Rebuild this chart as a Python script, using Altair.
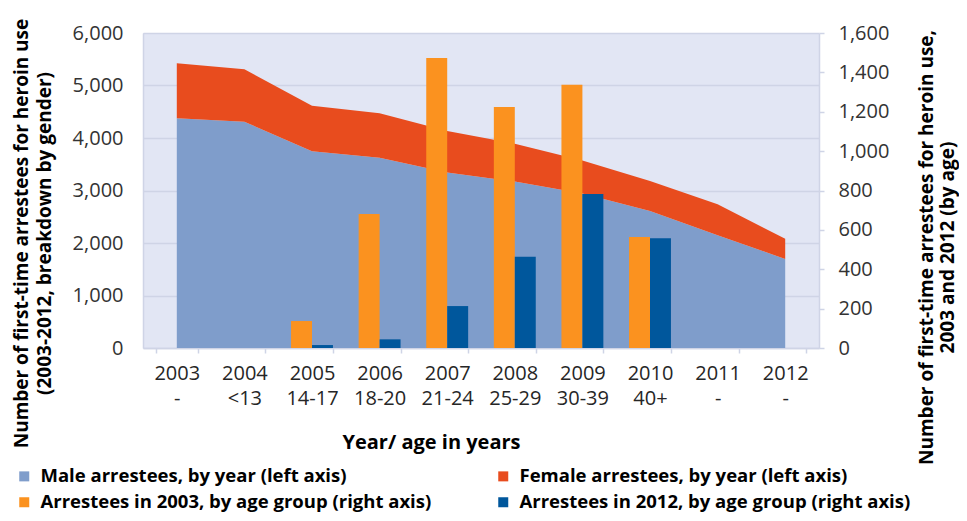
import altair as alt
import pandas as pd

years = ["2003", "2004", "2005", "2006", "2007", "2008", "2009", "2010", "2011", "2012"]
ages = ["-", "<13", "14-17", "18-20", "21-24", "25-29", "30-39", "40+", "-", "-"]
male = [4375, 4310, 3750, 3625, 3345, 3170, 2945, 2610, 2150, 1695]
female = [1050, 1000, 865, 845, 790, 720, 625, 570, 587, 385]
age_2003 = [None, 0, 137, 681, 1473, 1224, 1337, 564, None, None]
age_2012 = [None, 0, 15, 44, 213, 464, 782, 557, None, None]

series = [
    "Male arrestees, by year (left axis)",
    "Female arrestees, by year (left axis)",
    "Arrestees in 2003, by age group (right axis)",
    "Arrestees in 2012, by age group (right axis)",
]
colors = ["#7f9dcb", "#e84c1e", "#fb921f", "#00579c"]

cats = [y + "|" + a for y, a in zip(years, ages)]

area_rows = []
for c, m, f in zip(cats, male, female):
    area_rows.append({"cat": c, "series": series[0], "value": m, "order": 0})
    area_rows.append({"cat": c, "series": series[1], "value": f, "order": 1})
area_df = pd.DataFrame(area_rows)

bar_rows = []
for c, a, b in zip(cats, age_2003, age_2012):
    if a is not None:
        bar_rows.append({"cat": c, "series": series[2], "value": a})
    if b is not None:
        bar_rows.append({"cat": c, "series": series[3], "value": b})
bar_df = pd.DataFrame(bar_rows)

FONT = "Open Sans"
LINE = "#cfd4e6"

x_axis = alt.Axis(
    labelExpr="split(datum.label, '|')",
    labelAngle=0,
    labelFont=FONT,
    labelFontSize=20,
    labelLineHeight=25,
    labelColor="#262626",
    labelPadding=10,
    tickBand="extent",
    ticks=True,
    tickSize=5,
    tickColor=LINE,
    tickWidth=1.5,
    domainColor=LINE,
    domainWidth=1.5,
    grid=False,
    title="Year/ age in years",
    titleFont=FONT,
    titleFontSize=20,
    titleFontWeight="bold",
    titleColor="#000000",
    titleX=288,
    titleY=94,
    titleAlign="center",
    titleBaseline="middle",
)

x_enc = alt.X(
    "cat:N",
    sort=cats,
    scale=alt.Scale(domain=cats, paddingInner=0.38, paddingOuter=0.19),
    axis=x_axis,
)

color_enc = alt.Color(
    "series:N",
    scale=alt.Scale(domain=series, range=colors),
    legend=alt.Legend(
        title=None,
        orient="none",
        direction="horizontal",
        legendX=-128,
        legendY=434,
        columns=2,
        columnPadding=62,
        rowPadding=7,
        symbolType="square",
        symbolSize=100,
        symbolStrokeWidth=0,
        symbolOpacity=1,
        labelFont=FONT,
        labelFontSize=18.5,
        labelFontWeight="bold",
        labelColor="#000000",
        labelLimit=700,
        labelOffset=7,
    ),
)

area = alt.Chart(area_df).mark_area(opacity=1).encode(
    x=x_enc,
    y=alt.Y(
        "value:Q",
        stack="zero",
        scale=alt.Scale(domain=[0, 6000], nice=False),
        axis=alt.Axis(
            orient="left",
            values=[0, 1000, 2000, 3000, 4000, 5000, 6000],
            format=",d",
            labelFont=FONT,
            labelFontSize=20,
            labelColor="#333333",
            labelPadding=20,
            ticks=False,
            domain=True,
            domainColor=LINE,
            domainWidth=1.5,
            grid=True,
            gridColor=LINE,
            gridWidth=1.5,
            title=["Number of first-time arrestees for heroin use",
                   "(2003-2012, breakdown by gender)"],
            titleFont=FONT,
            titleFontSize=19,
            titleFontWeight="bold",
            titleColor="#000000",
            titleAngle=270,
            titleLineHeight=23,
            titleX=-122,
            titleY=200,
            titleAlign="center",
            titleBaseline="middle",
        ),
    ),
    color=color_enc,
    order=alt.Order("order:Q"),
)

bars = alt.Chart(bar_df).mark_bar().encode(
    x=x_enc,
    xOffset=alt.XOffset(
        "series:N",
        scale=alt.Scale(domain=series[2:], paddingInner=0, paddingOuter=0),
    ),
    y=alt.Y(
        "value:Q",
        scale=alt.Scale(domain=[0, 1600], nice=False),
        axis=alt.Axis(
            orient="right",
            values=[0, 200, 400, 600, 800, 1000, 1200, 1400, 1600],
            format=",d",
            labelFont=FONT,
            labelFontSize=20,
            labelColor="#333333",
            labelPadding=14,
            ticks=True,
            tickSize=5,
            tickColor=LINE,
            tickWidth=1.5,
            domain=True,
            domainColor=LINE,
            domainWidth=1.5,
            grid=False,
            title=["Number of first-time arrestees  for heroin use,",
                   "2003 and 2012 (by age)"],
            titleFont=FONT,
            titleFontSize=19,
            titleFontWeight="bold",
            titleColor="#000000",
            titleAngle=270,
            titleLineHeight=21,
            titleX=107,
            titleY=214,
            titleAlign="center",
            titleBaseline="middle",
        ),
    ),
    color=color_enc,
)

chart = (
    alt.layer(area, bars)
    .resolve_scale(y="independent")
    .properties(
        width=676,
        height=315,
        padding={"left": 135, "top": 25, "right": 140, "bottom": 165},
        autosize=alt.AutoSizeParams(type="none"),
    )
    .configure_view(fill="#e2e6f4", stroke=None)
)

chart.save("out.html", embed_options={"renderer": "svg", "actions": False})
